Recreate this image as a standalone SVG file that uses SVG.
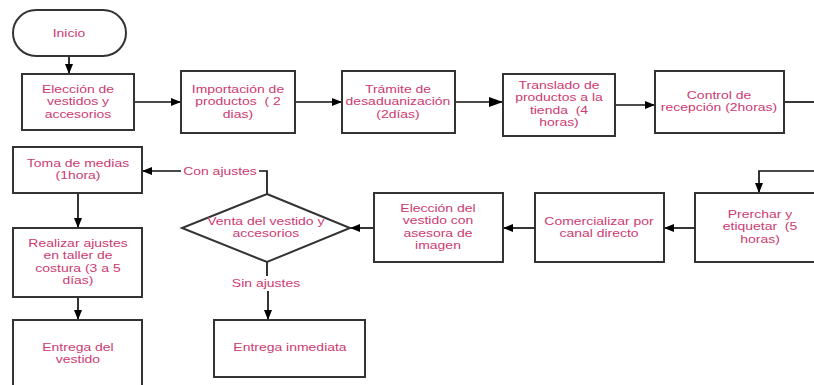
<svg xmlns="http://www.w3.org/2000/svg" width="814" height="385" viewBox="0 0 814 385">
<defs>
<marker id="ah" viewBox="0 0 10 8" refX="10" refY="4" markerWidth="10" markerHeight="8" markerUnits="userSpaceOnUse" orient="auto">
<path d="M0,0 L10,4 L0,8 Z" fill="#000"/>
</marker>
<marker id="ahb" viewBox="0 0 14 10" refX="14" refY="5" markerWidth="14" markerHeight="10" markerUnits="userSpaceOnUse" orient="auto">
<path d="M0,0 L14,5 L0,10 Z" fill="#000"/>
</marker>
</defs>
<style>
.n{fill:#fff;stroke:#333;stroke-width:2}
.t{font-family:"Liberation Sans",Arial,sans-serif;font-size:11px;fill:#cc3a72;text-anchor:middle;white-space:pre;transform-box:fill-box;transform-origin:center;transform:scaleX(1.27)}
.c{fill:none;stroke:#111;stroke-width:1.7}
.lb{fill:#fff}
</style>
<rect width="814" height="385" fill="#fff"/>
<g id="connectors">
<path class="c" d="M69,56 V74" marker-end="url(#ah)"/>
<path class="c" d="M134,102 H181" marker-end="url(#ah)"/>
<path class="c" d="M295,102 H342" marker-end="url(#ah)"/>
<path class="c" d="M455,102 H503" marker-end="url(#ahb)"/>
<path class="c" d="M615,105 H655" marker-end="url(#ah)"/>
<path class="c" d="M784,102 H814"/>
<path class="c" d="M814,171 H759 V193" marker-end="url(#ah)"/>
<path class="c" d="M695,228 H664" marker-end="url(#ah)"/>
<path class="c" d="M535,228 H503" marker-end="url(#ah)"/>
<path class="c" d="M374,228 H350" marker-end="url(#ah)"/>
<path class="c" d="M267,194 V171 H142" marker-end="url(#ah)"/>
<path class="c" d="M267,262 V290 H268 V320" marker-end="url(#ah)"/>
<path class="c" d="M78,193 V228" marker-end="url(#ah)"/>
<path class="c" d="M78,297 V320" marker-end="url(#ah)"/>
<rect class="lb" x="181" y="163" width="78" height="15"/>
<text class="t" x="220" y="175">Con ajustes</text>
<rect class="lb" x="228" y="276" width="76" height="15"/>
<text class="t" x="266" y="287">Sin ajustes</text>
</g>
<g id="inicio">
<rect class="n" x="13" y="10" width="113" height="46" rx="23" ry="23"/>
<text class="t" x="69" y="37">Inicio</text>
</g>
<g id="eleccion">
<rect class="n" x="22" y="74" width="112" height="56"/>
<text class="t" x="78" y="93"><tspan x="78">Elección de</tspan><tspan x="78" dy="12.5">vestidos y</tspan><tspan x="78" dy="12.5">accesorios</tspan></text>
</g>
<g id="importacion">
<rect class="n" x="181" y="71" width="114" height="62"/>
<text class="t" x="238" y="93"><tspan x="238">Importación de</tspan><tspan x="238" dy="12.5">productos  ( 2</tspan><tspan x="238" dy="12.5">dias)</tspan></text>
</g>
<g id="tramite">
<rect class="n" x="342" y="71" width="113" height="62"/>
<text class="t" x="398" y="93"><tspan x="398">Trámite de</tspan><tspan x="398" dy="12.5">desaduanización</tspan><tspan x="398" dy="12.5">(2días)</tspan></text>
</g>
<g id="translado">
<rect class="n" x="503" y="74" width="112" height="62"/>
<text class="t" x="559" y="89"><tspan x="559">Translado de</tspan><tspan x="559" dy="12.5">productos a la</tspan><tspan x="559" dy="12.5">tienda  (4</tspan><tspan x="559" dy="12.5">horas)</tspan></text>
</g>
<g id="control">
<rect class="n" x="655" y="71" width="129" height="62"/>
<text class="t" x="719" y="99"><tspan x="719">Control de</tspan><tspan x="719" dy="12.5">recepción (2horas)</tspan></text>
</g>
<g id="prerchar">
<rect class="n" x="695" y="193" width="125" height="69"/>
<text class="t" x="760" y="218"><tspan x="760">Prerchar y</tspan><tspan x="760" dy="12.5">etiquetar  (5</tspan><tspan x="760" dy="12.5">horas)</tspan></text>
</g>
<g id="comercializar">
<rect class="n" x="535" y="193" width="129" height="69"/>
<text class="t" x="599" y="225"><tspan x="599">Comercializar por</tspan><tspan x="599" dy="12.5">canal directo</tspan></text>
</g>
<g id="eleccion-vestido">
<rect class="n" x="374" y="193" width="129" height="69"/>
<text class="t" x="438" y="212"><tspan x="438">Elección del</tspan><tspan x="438" dy="12.5">vestido con</tspan><tspan x="438" dy="12.5">asesora de</tspan><tspan x="438" dy="12.5">imagen</tspan></text>
</g>
<g id="venta">
<polygon class="n" points="267,194 350,228 267,262 182,228"/>
<text class="t" x="266" y="225"><tspan x="266">Venta del vestido y</tspan><tspan x="266" dy="12.5">accesorios</tspan></text>
</g>
<g id="toma">
<rect class="n" x="13" y="147" width="129" height="46"/>
<text class="t" x="78" y="167"><tspan x="78">Toma de medias</tspan><tspan x="78" dy="12.5">(1hora)</tspan></text>
</g>
<g id="realizar">
<rect class="n" x="13" y="228" width="129" height="69"/>
<text class="t" x="78" y="247"><tspan x="78">Realizar ajustes</tspan><tspan x="78" dy="12.5">en taller de</tspan><tspan x="78" dy="12.5">costura (3 a 5</tspan><tspan x="78" dy="12.5">días)</tspan></text>
</g>
<g id="entrega-vestido">
<rect class="n" x="13" y="320" width="129" height="80"/>
<text class="t" x="78" y="351"><tspan x="78">Entrega del</tspan><tspan x="78" dy="12.5">vestido</tspan></text>
</g>
<g id="entrega-inmediata">
<rect class="n" x="214" y="320" width="151" height="57"/>
<text class="t" x="290" y="351">Entrega inmediata</text>
</g>
</svg>
